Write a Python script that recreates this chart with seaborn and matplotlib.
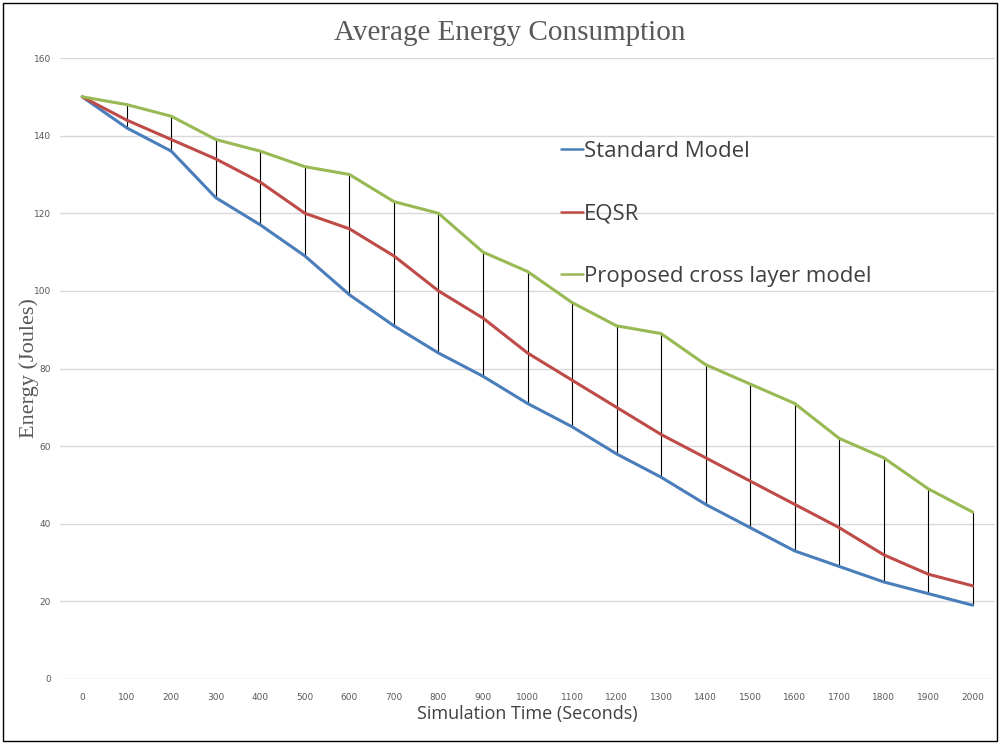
"""
Average energy consumption over simulation time
"""

import numpy as np
import pandas as pd
import matplotlib
matplotlib.use("Agg")
import matplotlib.pyplot as plt
from matplotlib.patches import Rectangle
import seaborn as sns

times = [0, 100, 200, 300, 400, 500, 600, 700, 800, 900, 1000,
         1100, 1200, 1300, 1400, 1500, 1600, 1700, 1800, 1900, 2000]
standard = [150, 142, 136, 124, 117, 109, 99, 91, 84, 78, 71,
            65, 58, 52, 45, 39, 33, 29, 25, 22, 19]
eqsr = [150, 144, 139, 134, 128, 120, 116, 109, 100, 93, 84,
        77, 70, 63, 57, 51, 45, 39, 32, 27, 24]
proposed = [150, 148, 145, 139, 136, 132, 130, 123, 120, 110, 105,
            97, 91, 89, 81, 76, 71, 62, 57, 49, 43]
series_names = ["Standard Model", "EQSR", "Proposed cross layer model"]
colors = ["#4A7EBB", "#BE4B48", "#98B954"]

df = pd.DataFrame({
    "time": times * 3,
    "energy": standard + eqsr + proposed,
    "model": [n for n in series_names for _ in times],
})

sns.set_style("white")
fig = plt.figure(figsize=(10, 7.44), dpi=100)
ax = fig.add_axes([0.06, 0.0874, 0.935, 0.8346])

# high-low lines between the three series
low = np.minimum(np.minimum(standard, eqsr), proposed)
high = np.maximum(np.maximum(standard, eqsr), proposed)
ax.vlines(times, low, high, color="black", lw=0.8, zorder=2)

sns.lineplot(data=df, x="time", y="energy", hue="model",
             palette=dict(zip(series_names, colors)), lw=2.2,
             sort=False, ax=ax, zorder=3)

ax.set_xlim(-50, 2050)
ax.set_ylim(0, 160)
ax.set_xticks(times)
ax.set_xticklabels([str(t) for t in times])
ax.set_yticks(range(0, 161, 20))
ax.tick_params(axis="both", length=0, labelsize=6.5, labelcolor="#595959")
ax.tick_params(axis="x", pad=10)
ax.tick_params(axis="y", pad=6.5)
ax.grid(axis="y", color="#D9D9D9", lw=1)
for s in ax.spines.values():
    s.set_visible(False)

ax.set_xlabel("Simulation Time (Seconds)", fontsize=13, color="#404040",
              family="Open Sans", labelpad=2)
ax.set_ylabel("Energy (Joules)", fontsize=16, color="#595959",
              family="Liberation Serif", labelpad=-3.5)
fig.text(0.51, 0.955, "Average Energy Consumption", fontsize=21, color="#595959",
         family="Liberation Serif", ha="center", va="center")

leg = ax.legend(loc="upper left", bbox_to_anchor=(0.514, 0.899), frameon=False,
                handlelength=1.0, handletextpad=0.05, labelspacing=1.87,
                prop={"family": "Open Sans", "size": 16})
for t in leg.get_texts():
    t.set_color("#404040")
for h in leg.get_lines():
    h.set_linewidth(1.8)

fig.patches.append(Rectangle((0.003, 0.004), 0.994, 0.992, transform=fig.transFigure,
                             fill=False, edgecolor="black", lw=1))

fig.savefig("out.png", dpi=100)
